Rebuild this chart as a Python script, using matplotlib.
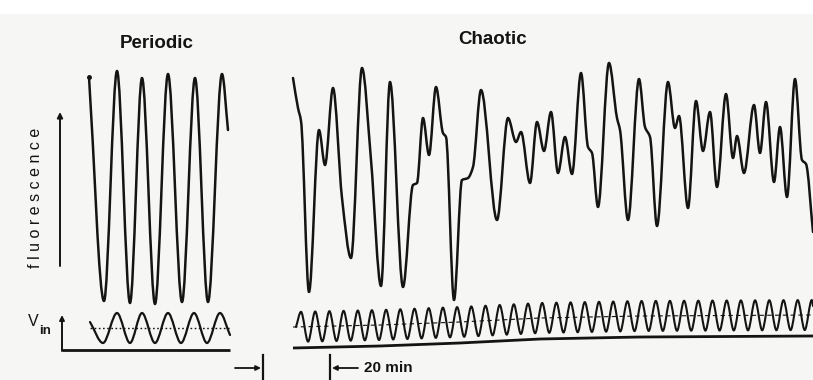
import numpy as np
import matplotlib
matplotlib.use("Agg")
import matplotlib.pyplot as plt
from matplotlib.path import Path
from matplotlib.patches import PathPatch, Rectangle

# ---------------- data (pixel-like units) ----------------
# Periodic fluorescence trace: extrema (time, signal; signal axis points down)
periodic_t = [89, 104, 117, 130, 142, 155, 168, 182, 195, 208, 222, 228]
periodic_f = [77, 301, 71, 303, 78, 304, 74, 302, 78, 302, 74, 130]

# Periodic input voltage V_in (extrema)
periodic_vin_t = [90, 103, 117, 130, 142, 155, 168, 181, 194, 207, 220, 230]
periodic_vin_v = [322, 343, 313, 343, 313, 343, 313, 343, 313, 343, 313, 335]
periodic_vin_mean = 328

# Chaotic fluorescence trace: extrema and shoulders
chaotic_t = [293, 298, 301, 309, 319, 325, 333, 342, 351, 362,
             371, 381, 390, 403, 413, 417, 423, 429, 436, 443,
             446, 454, 462, 468, 473, 481, 497, 508, 516, 521,
             530, 537, 544, 551, 558, 565, 572, 581, 588, 592,
             598, 609, 617, 620, 628, 639, 645, 650, 657, 668,
             675, 679, 688, 696, 703, 710, 717, 726, 733, 737,
             744, 754, 760, 766, 774, 780, 787, 795, 802, 806,
             813]
chaotic_f = [78, 108, 121, 292, 130, 165, 88, 198, 258, 68,
             160, 286, 82, 287, 185, 183, 118, 155, 87, 133,
             137, 300, 180, 178, 167, 90, 220, 118, 142, 132,
             183, 122, 151, 112, 173, 137, 174, 73, 147, 153,
             207, 63, 118, 130, 220, 79, 127, 137, 226, 82,
             128, 116, 208, 101, 151, 112, 187, 94, 158, 136,
             173, 105, 153, 102, 182, 127, 197, 79, 160, 164,
             232]

# Chaotic V_in: peak times, drifting baseline
chaotic_vin_peaks = [301.0, 315.2, 329.4, 343.6, 357.8, 371.9, 386.1, 400.3, 414.5,
                     428.7, 442.9, 457.1, 471.3, 485.5, 499.7, 513.8, 528.0, 542.2,
                     556.4, 570.6, 584.8, 599.0, 613.2, 627.4, 641.6, 655.8, 669.9,
                     684.1, 698.3, 712.5, 726.7, 740.9, 755.1, 769.3, 783.5, 797.7,
                     811.8]
chaotic_vin_start = 296
chaotic_vin_end = 813
chaotic_base_t = [293, 380, 460, 540, 640, 813]
chaotic_base_v = [348, 346, 343, 339, 337, 336]
vin_offset = 21
vin_amp = 15

INK = "#141414"


def smooth_path(x, y):
    """Monotone (PCHIP) Hermite curve through the read points, as a Bezier path."""
    x = np.asarray(x, float)
    y = np.asarray(y, float)
    h = np.diff(x)
    d = np.diff(y) / h
    m = np.zeros_like(y)
    m[0], m[-1] = d[0], d[-1]
    for k in range(1, len(x) - 1):
        if d[k - 1] * d[k] <= 0:
            m[k] = 0.0
        else:
            w1 = 2 * h[k] + h[k - 1]
            w2 = h[k] + 2 * h[k - 1]
            m[k] = (w1 + w2) / (w1 / d[k - 1] + w2 / d[k])
    verts = [(x[0], y[0])]
    codes = [Path.MOVETO]
    for k in range(len(x) - 1):
        verts += [(x[k] + h[k] / 3, y[k] + m[k] * h[k] / 3),
                  (x[k + 1] - h[k] / 3, y[k + 1] - m[k + 1] * h[k] / 3),
                  (x[k + 1], y[k + 1])]
        codes += [Path.CURVE4] * 3
    return Path(verts, codes)


def draw_curve(ax, x, y, lw):
    ax.add_patch(PathPatch(smooth_path(x, y), fill=False, edgecolor=INK, lw=lw,
                           capstyle="round", joinstyle="round", zorder=3))


plt.rcParams["font.family"] = ["Liberation Sans", "DejaVu Sans"]

fig = plt.figure(figsize=(8.13, 3.8), dpi=100, facecolor="#f6f6f4")
ax = fig.add_axes([0, 0, 1, 1])
ax.set_xlim(0, 813)
ax.set_ylim(380, 0)
ax.axis("off")
ax.add_patch(Rectangle((0, 0), 813, 14, facecolor="white", edgecolor="none", zorder=0))

# ---- fluorescence traces
draw_curve(ax, periodic_t, periodic_f, 1.8)
ax.plot(periodic_t[0], periodic_f[0], "o", color=INK, ms=2.5, zorder=4)
draw_curve(ax, chaotic_t, chaotic_f, 1.8)

# ---- periodic V_in
draw_curve(ax, periodic_vin_t, periodic_vin_v, 1.6)
ax.plot([periodic_vin_t[0], periodic_vin_t[-1]], [periodic_vin_mean] * 2,
        ls=(0, (1.2, 1.8)), color=INK, lw=1.0)

# ---- chaotic V_in riding on a slowly drifting baseline
pk = np.asarray(chaotic_vin_peaks)
tr = (pk[:-1] + pk[1:]) / 2
vin_t = np.concatenate([[chaotic_vin_start], np.ravel(np.column_stack([pk[:-1], tr])), [pk[-1], chaotic_vin_end]])
base_at = np.interp(vin_t, chaotic_base_t, chaotic_base_v)
centre = base_at - vin_offset
sign = np.concatenate([[0], np.tile([-1, 1], len(tr)), [-1, -0.6]])
draw_curve(ax, vin_t, centre + sign * vin_amp, 1.5)
ax.plot(chaotic_base_t, np.asarray(chaotic_base_v) - vin_offset, ls=(0, (4, 3)),
        color=INK, lw=0.8, zorder=2)
base_fine = np.linspace(chaotic_base_t[0], chaotic_base_t[-1], 60)
ax.plot(base_fine, np.interp(base_fine, chaotic_base_t, chaotic_base_v),
        color=INK, lw=2.0, solid_capstyle="butt")

# ---- periodic V_in axes
ax.plot([62, 230], [350, 350], color=INK, lw=2.0, solid_capstyle="butt")
ax.annotate("", xy=(62, 315), xytext=(62, 351),
            arrowprops=dict(arrowstyle="-|>", color=INK, lw=1.4, mutation_scale=7,
                            shrinkA=0, shrinkB=0))
ax.text(33, 322, "V", fontsize=11.5, ha="center", va="center", color=INK)
ax.text(45, 331, "in", fontsize=9.5, ha="center", va="center", color=INK, fontweight="bold")

# ---- fluorescence axis arrow and label
ax.annotate("", xy=(60, 112), xytext=(60, 266),
            arrowprops=dict(arrowstyle="-|>", color=INK, lw=1.4, mutation_scale=8,
                            shrinkA=0, shrinkB=0))
ax.text(36, 198, "f l u o r e s c e n c e", fontsize=11.5, rotation=90,
        ha="center", va="center", color=INK)

# ---- titles
ax.text(157, 44, "Periodic", fontsize=13.5, fontweight="bold", ha="center", va="center", color=INK)
ax.text(493, 39, "Chaotic", fontsize=13.5, fontweight="bold", ha="center", va="center", color=INK)

# ---- 20 min scale marker
ax.annotate("", xy=(261, 368), xytext=(235, 368),
            arrowprops=dict(arrowstyle="-|>", color=INK, lw=1.3, mutation_scale=7,
                            shrinkA=0, shrinkB=0))
ax.plot([263, 263], [355, 381], color=INK, lw=1.6)
ax.annotate("", xy=(332, 368), xytext=(358, 368),
            arrowprops=dict(arrowstyle="-|>", color=INK, lw=1.3, mutation_scale=7,
                            shrinkA=0, shrinkB=0))
ax.plot([330, 330], [355, 381], color=INK, lw=1.6)
ax.text(364, 368, "20 min", fontsize=11, fontweight="bold", ha="left", va="center", color=INK)

fig.savefig("out.png", dpi=100, facecolor=fig.get_facecolor())
